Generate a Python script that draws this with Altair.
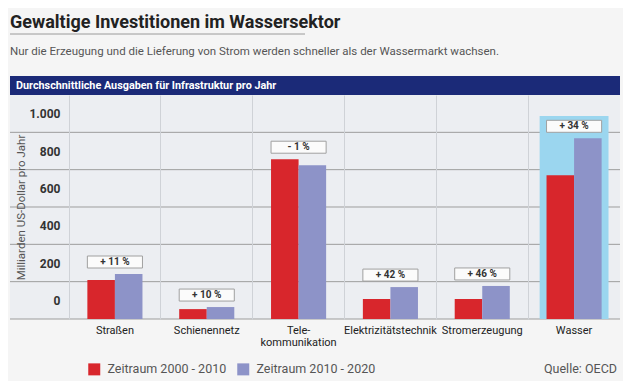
import altair as alt
import pandas as pd

# ---- data ----
categories = ["Straßen", "Schienennetz", "Telekommunikation",
              "Elektrizitätstechnik", "Stromerzeugung", "Wasser"]
series = ["Zeitraum 2000 - 2010", "Zeitraum 2010 - 2020"]
values_2000_2010 = [209, 53, 856, 107, 107, 770]
values_2010_2020 = [241, 64, 824, 171, 177, 968]
changes = ["+ 11 %", "+ 10 %", "- 1 %", "+ 42 %", "+ 46 %", "+ 34 %"]
y_ticks = [0, 200, 400, 600, 800, 1000]
highlight_cat = ["Wasser"]
highlight_top = [1087]

title_text = "Gewaltige Investitionen im Wassersektor"
subtitle_text = "Nur die Erzeugung und die Lieferung von Strom werden schneller als der Wassermarkt wachsen."
header_text = "Durchschnittliche Ausgaben für Infrastruktur pro Jahr"
source_text = "Quelle: OECD"
y_title = "Milliarden US-Dollar pro Jahr"

# ---- tables ----
bars_df = pd.DataFrame(
    [{"cat": c, "series": series[0], "value": a} for c, a in zip(categories, values_2000_2010)]
    + [{"cat": c, "series": series[1], "value": b} for c, b in zip(categories, values_2010_2020)]
)
box_df = pd.DataFrame({
    "cat": categories,
    "top": [max(a, b) for a, b in zip(values_2000_2010, values_2010_2020)],
    "label": changes,
})
grid_df = pd.DataFrame({"v": y_ticks})
hl_df = pd.DataFrame({"cat": highlight_cat, "top": highlight_top})
one = pd.DataFrame({"a": [0]})

W, H = 551, 224
FONT = "Roboto, 'Liberation Sans', sans-serif"
RED = "#d8262c"
BLUE = "#8d93c8"
PANEL = "#eceef2"

xscale = alt.Scale(domain=categories, paddingInner=0.4, paddingOuter=0.2)
xaxis = alt.Axis(
    title=None, domain=False, ticks=False, labelAngle=0, labelPadding=5,
    labelFont=FONT, labelFontSize=11, labelColor="#222",
    grid=True, gridColor="#cfd2d7", gridWidth=1, bandPosition=-1 / 3,
    labelExpr="datum.label == 'Telekommunikation' ? ['Tele-', 'kommunikation'] : datum.label",
    labelLineHeight=12.5, zindex=1,
)
yscale = alt.Scale(domain=[0, 1200], nice=False, zero=True)
yaxis = alt.Axis(
    title=y_title, values=y_ticks, grid=False, domain=False, ticks=False,
    labelOffset=-18.5, labelPadding=9, labelFont=FONT, labelFontSize=12,
    labelFontWeight="bold", labelColor="#333",
    labelExpr="replace(format(datum.value, ','), ',', '.')",
    titleFont=FONT, titleFontSize=11.5, titleFontWeight="normal", titleColor="#555",
    titleX=-48, titleY=H / 2, titleAlign="center", titleBaseline="middle", titleAngle=-90,
    zindex=1,
)


def X():
    return alt.X("cat:N", sort=categories, scale=xscale, axis=xaxis)


def Y(field):
    return alt.Y(field, type="quantitative", scale=yscale, axis=yaxis)


base1 = alt.Chart(one)

panel = base1.mark_rect(color=PANEL).encode(
    x=alt.value(-59), x2=alt.value(W), y=alt.value(0), y2=alt.value(H))

header = base1.mark_rect(color="#1b2a78").encode(
    x=alt.value(-59), x2=alt.value(W), y=alt.value(-19), y2=alt.value(0))

header_t = base1.mark_text(
    text=header_text, font=FONT, fontSize=10.8, fontWeight="bold", color="white",
    align="left", baseline="middle").encode(x=alt.value(-53), y=alt.value(-9.5))

title_t = base1.mark_text(
    text=title_text, font=FONT, fontSize=18, fontWeight="bold", color="#222",
    align="left", baseline="alphabetic").encode(x=alt.value(-59), y=alt.value(-67))

underline = base1.mark_rule(color="#9a9a9a", strokeWidth=1).encode(
    x=alt.value(-59), x2=alt.value(236), y=alt.value(-61))

subtitle_t = base1.mark_text(
    text=subtitle_text, font=FONT, fontSize=11.5, color="#555",
    align="left", baseline="alphabetic").encode(x=alt.value(-59), y=alt.value(-40))

gridrules = alt.Chart(grid_df).mark_rule(color="#9d9d9d", strokeWidth=1).encode(
    y=Y("v"), x=alt.value(-59), x2=alt.value(W))

highlight = alt.Chart(hl_df).mark_bar(color="#9bd6ef", width=alt.RelativeBandSize(1.25)).encode(
    x=X(), y=Y("top"), y2=alt.value(H + 22))

bars = alt.Chart(bars_df).mark_bar().encode(
    x=X(),
    xOffset=alt.XOffset("series:N", sort=series),
    y=Y("value"),
    color=alt.Color(
        "series:N", sort=series,
        scale=alt.Scale(domain=series, range=[RED, BLUE]),
        legend=alt.Legend(
            title=None, orient="none", legendX=19, legendY=268, direction="horizontal",
            symbolType="square", symbolSize=144, symbolStrokeWidth=0,
            labelFont=FONT, labelFontSize=12.5, labelColor="#555", labelOffset=7,
            columnPadding=10,
        ),
    ),
)

boxes = alt.Chart(box_df).mark_rect(
    fill="#fbfbfb", stroke="#a0a0a0", strokeWidth=1, yOffset=-6, y2Offset=-18).encode(
    x=X(), y=Y("top"), y2="top")

box_t = alt.Chart(box_df).mark_text(
    font=FONT, fontSize=10, fontWeight="bold", color="#333", baseline="middle", yOffset=-12).encode(
    x=X(), y=Y("top"), text="label")

source_t = base1.mark_text(
    text=source_text, font=FONT, fontSize=12.5, color="#555",
    align="right", baseline="middle").encode(x=alt.value(W - 3), y=alt.value(274))

chart = alt.layer(
    panel, header, header_t, title_t, underline, subtitle_t,
    gridrules, highlight, bars, boxes, box_t, source_t,
).properties(
    width=W, height=H,
    autosize=alt.AutoSizeParams(type="none"),
    padding={"left": 61, "top": 87, "right": 3, "bottom": 62},
    background="#f5f5f5",
).configure_view(strokeWidth=0)

chart.save("out.html", embed_options={"renderer": "svg", "actions": False})
